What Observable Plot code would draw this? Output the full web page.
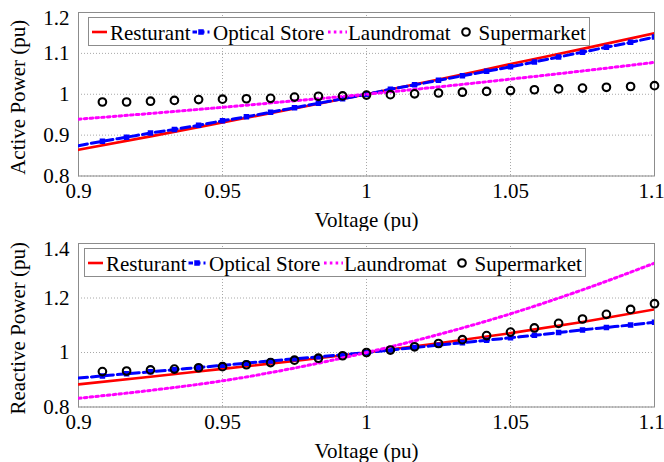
<!DOCTYPE html>
<html><head><meta charset="utf-8">
<script src="https://cdn.jsdelivr.net/npm/d3@7"></script>
<script src="https://cdn.jsdelivr.net/npm/@observablehq/plot@0.6"></script>
<style>
body{margin:0;background:#fff;font-family:"Liberation Serif","Times New Roman",serif;}
.panel{position:relative;width:664px;height:231px;}
.legend{position:absolute;left:0;top:0;}
</style></head><body><div id="chart"></div>
<script>
const voltageFine = [0.9, 0.9083, 0.9167, 0.925, 0.9333, 0.9417, 0.95, 0.9583, 0.9667, 0.975, 0.9833, 0.9917, 1.0, 1.0083, 1.0167, 1.025, 1.0333, 1.0417, 1.05, 1.0583, 1.0667, 1.075, 1.0833, 1.0917, 1.1];
const voltageCoarse = [0.9, 0.925, 0.95, 0.975, 1.0, 1.025, 1.05, 1.075, 1.1];
const xTicks = [0.9, 0.95, 1, 1.05, 1.1];
const xTickLabels = ["0.9", "0.95", "1", "1.05", "1.1"];
const pTicks = [0.8, 0.9, 1, 1.1, 1.2];
const pTickLabels = ["0.8", "0.9", "1", "1.1", "1.2"];
const qTicks = [0.8, 1, 1.2, 1.4];
const qTickLabels = ["0.8", "1", "1.2", "1.4"];
const seriesNames = ["Resturant", "Optical Store", "Laundromat", "Supermarket"];
const seriesColors = ["#ff0000", "#0000ff", "#ff00ff", "#000000"];
const xTitle = "Voltage (pu)";
const pTitle = "Active Power (pu)";
const qTitle = "Reactive Power (pu)";

// Active power
const restaurantP = [0.864, 0.897, 0.931, 0.965, 1.0, 1.036, 1.074, 1.111, 1.149];
const laundromatP = [0.939, 0.953, 0.968, 0.984, 1.0, 1.018, 1.037, 1.057, 1.078];
const opticalP = [0.874, 0.885, 0.895, 0.905, 0.914, 0.924, 0.935, 0.945, 0.956, 0.967, 0.978, 0.989, 1.0, 1.012, 1.023, 1.034, 1.045, 1.056, 1.067, 1.079, 1.091, 1.103, 1.115, 1.127, 1.140];
const supermarketP = [null, 0.981, 0.981, 0.983, 0.985, 0.987, 0.988, 0.989, 0.990, 0.993, 0.995, 0.996, 0.998, 0.999, 1.001, 1.003, 1.005, 1.007, 1.009, 1.011, 1.013, 1.015, 1.017, 1.019, 1.021];

// Reactive power
const restaurantQ = [0.883, 0.911, 0.940, 0.969, 1.0, 1.034, 1.071, 1.112, 1.158];
const laundromatQ = [0.832, 0.861, 0.896, 0.943, 1.0, 1.066, 1.142, 1.230, 1.328];
const opticalQ = [0.906, 0.914, 0.922, 0.929, 0.937, 0.945, 0.953, 0.961, 0.969, 0.977, 0.984, 0.992, 1.0, 1.009, 1.018, 1.027, 1.036, 1.045, 1.054, 1.063, 1.073, 1.083, 1.092, 1.101, 1.111];
const supermarketQ = [null, 0.930, 0.932, 0.936, 0.939, 0.944, 0.948, 0.955, 0.963, 0.972, 0.979, 0.988, 1.0, 1.009, 1.021, 1.033, 1.047, 1.062, 1.075, 1.090, 1.107, 1.123, 1.140, 1.158, 1.179];

const FONT = '"Liberation Serif","Times New Roman",serif';
const rows = (xs, ys) => xs.map((v, i) => ({v, y: ys[i]})).filter(d => d.y != null);

function panel({yDomain, yTicks, yTickLabels, yTitle, rest, opt, laun, sup, legendLeft}) {
  const div = document.createElement("div");
  div.className = "panel";
  const optRows = rows(voltageFine, opt);
  const xFmt = d => xTickLabels[xTicks.indexOf(d)];
  const yFmt = d => yTickLabels[yTicks.indexOf(d)];
  const plot = Plot.plot({
    width: 664, height: 231,
    marginTop: 12, marginBottom: 55.5, marginLeft: 78, marginRight: 10,
    style: {fontFamily: FONT, fontSize: "21px", color: "#000", background: "#fff", overflow: "visible"},
    x: {domain: [0.9, 1.1]},
    y: {domain: yDomain},
    marks: [
      Plot.gridX(xTicks, {stroke: "#a8a8a8", strokeOpacity: 1, strokeDasharray: "1,2"}),
      Plot.gridY(yTicks, {stroke: "#a8a8a8", strokeOpacity: 1, strokeDasharray: "1,2"}),
      Plot.frame({stroke: "#8c8c8c"}),
      Plot.line(rows(voltageCoarse, rest), {x: "v", y: "y", stroke: seriesColors[0], strokeWidth: 2.6, curve: "monotone-x", clip: true}),
      Plot.line(optRows, {x: "v", y: "y", stroke: seriesColors[1], strokeWidth: 3, strokeDasharray: "9,4", curve: "monotone-x", clip: true}),
      Plot.dot(optRows.slice(1), {x: "v", y: "y", symbol: "square", fill: seriesColors[1], r: 3.1, clip: true}),
      Plot.line(rows(voltageCoarse, laun), {x: "v", y: "y", stroke: seriesColors[2], strokeWidth: 3, strokeDasharray: "2.6,3.2", curve: "monotone-x", clip: true}),
      Plot.dot(rows(voltageFine, sup), {x: "v", y: "y", stroke: seriesColors[3], strokeWidth: 2.1, r: 3.8, fill: "none"}),
      Plot.axisX(xTicks.slice(0, -1), {tickSize: 0, tickPadding: 7, tickFormat: xFmt, label: null, fill: "#000"}),
      Plot.axisX(xTicks.slice(-1), {tickSize: 0, tickPadding: 7, tickFormat: xFmt, label: null, fill: "#000", dx: -3}),
      Plot.axisY(yTicks.slice(0, -1), {tickSize: 0, tickPadding: 9, tickFormat: yFmt, label: null, fill: "#000"}),
      Plot.axisY(yTicks.slice(-1), {tickSize: 0, tickPadding: 9, tickFormat: yFmt, label: null, fill: "#000", dy: 6}),
      Plot.text([xTitle], {text: d => d, frameAnchor: "bottom", lineAnchor: "top", dy: 36, fontSize: 21, fill: "#000"}),
      Plot.text([yTitle], {text: d => d, frameAnchor: "left", textAnchor: "middle", lineAnchor: "middle", rotate: -90, dx: -60, dy: 3, fontSize: 21, fill: "#000"})
    ]
  });
  div.appendChild(plot);

  // legend box
  const svg = d3.select(div).append("svg").attr("class", "legend")
    .attr("width", 664).attr("height", 60)
    .style("font-family", FONT).style("font-size", "21px");
  const g = svg.append("g").attr("transform", `translate(${legendLeft},17)`);
  g.append("rect").attr("x", 0.5).attr("y", 0.5).attr("width", 501).attr("height", 28)
    .attr("fill", "#fff").attr("stroke", "#8c8c8c");
  const cy = 15, base = 22.5;
  g.append("line").attr("x1", 4).attr("x2", 19).attr("y1", cy).attr("y2", cy)
    .attr("stroke", seriesColors[0]).attr("stroke-width", 2.6);
  g.append("line").attr("x1", 104.5).attr("x2", 121.5).attr("y1", cy).attr("y2", cy)
    .attr("stroke", seriesColors[1]).attr("stroke-width", 3).attr("stroke-dasharray", "4.5,3");
  g.append("rect").attr("x", 113 - 2.75).attr("y", cy - 2.75).attr("width", 5.5).attr("height", 5.5)
    .attr("fill", seriesColors[1]);
  g.append("line").attr("x1", 240).attr("x2", 259).attr("y1", cy).attr("y2", cy)
    .attr("stroke", seriesColors[2]).attr("stroke-width", 3).attr("stroke-dasharray", "2.6,3.2");
  g.append("circle").attr("cx", 378).attr("cy", cy).attr("r", 3.8)
    .attr("fill", "none").attr("stroke", seriesColors[3]).attr("stroke-width", 2.1);
  const tx = [22, 125, 260, 390.5];
  seriesNames.forEach((n, i) => g.append("text").attr("x", tx[i]).attr("y", base).attr("fill", "#000").text(n));
  return div;
}

const chart = document.getElementById("chart");
chart.appendChild(panel({yDomain: [0.8, 1.2], yTicks: pTicks, yTickLabels: pTickLabels, yTitle: pTitle,
  rest: restaurantP, opt: opticalP, laun: laundromatP, sup: supermarketP, legendLeft: 88}));
chart.appendChild(panel({yDomain: [0.8, 1.4], yTicks: qTicks, yTickLabels: qTickLabels, yTitle: qTitle,
  rest: restaurantQ, opt: opticalQ, laun: laundromatQ, sup: supermarketQ, legendLeft: 84}));
</script></body></html>
